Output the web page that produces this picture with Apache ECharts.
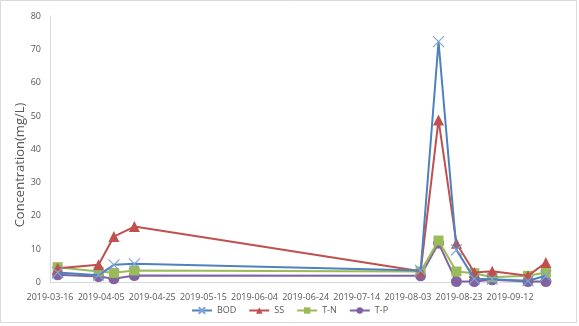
<!DOCTYPE html>
<html><head><meta charset="utf-8">
<script src="https://cdn.jsdelivr.net/npm/echarts@6/dist/echarts.min.js"></script>
<style>html,body{margin:0;padding:0;background:#fff}#c{width:579px;height:326px}</style>
</head><body><div id="c"></div>
<script>
const dates = ['2019-03-19','2019-04-04','2019-04-10','2019-04-18','2019-08-08','2019-08-15','2019-08-22','2019-08-29','2019-09-05','2019-09-19','2019-09-26'];
const bod = [3.0, 2.2, 5.3, 5.6, 3.6, 72.3, 9.8, 1.1, 1.0, 0.5, 2.0];
const ss  = [4.3, 5.3, 13.8, 16.8, 3.4, 48.8, 11.8, 3.0, 3.4, 2.0, 6.0];
const tn  = [4.6, 3.3, 2.9, 3.6, 3.3, 12.6, 3.3, 2.8, 1.6, 2.0, 3.0];
const tp  = [2.3, 1.8, 1.1, 2.1, 2.0, 11.8, 0.3, 0.3, 0.8, 0.3, 0.3];
const yTicks = [0,10,20,30,40,50,60,70,80];
const axisStart = '2019-03-16';
const axisEnd = '2019-09-28';

const DAY = 86400000;
const ts = s => { const [y,m,d] = s.split('-').map(Number); return Date.UTC(y, m-1, d); };
const fmt = v => { const d = new Date(v); const p = n => String(n).padStart(2,'0'); return d.getUTCFullYear()+'-'+p(d.getUTCMonth()+1)+'-'+p(d.getUTCDate()); };
const pts = arr => dates.map((d,i) => [ts(d), arr[i]]);

const chart = echarts.init(document.getElementById('c'), null, {renderer:'canvas'});
const axisText = {color:'#595959', fontSize:9, fontFamily:'Open Sans, sans-serif'};
chart.setOption({
  animation:false,
  backgroundColor:'#fff',
  grid:{left:50, top:16, right:28, bottom:43.5, containLabel:false},
  xAxis:{type:'value', min:ts(axisStart), max:ts(axisEnd), interval:20*DAY,
    axisLine:{lineStyle:{color:'#D9D9D9', width:1}}, axisTick:{show:false}, splitLine:{show:false},
    axisLabel:Object.assign({formatter:fmt, margin:10, showMaxLabel:false}, axisText)},
  yAxis:{type:'value', min:yTicks[0], max:yTicks[yTicks.length-1], interval:10,
    axisLine:{show:true, lineStyle:{color:'#D9D9D9', width:1}}, axisTick:{show:false}, splitLine:{show:false},
    axisLabel:Object.assign({margin:9}, axisText)},
  legend:{bottom:6, left:'center', itemWidth:20, itemHeight:8, itemGap:12,
    textStyle:{color:'#595959', fontSize:9, fontFamily:'Open Sans, sans-serif'},
    data:['BOD','SS','T-N','T-P']},
  graphic:[
    {type:'rect', shape:{x:0.5,y:0.5,width:576,height:322}, style:{fill:'none', stroke:'#D9D9D9', lineWidth:1}, silent:true},
    {type:'text', x:20, y:165, rotation:Math.PI/2, style:{text:'Concentration(mg/L)', fill:'#595959', fontSize:13, fontFamily:'Open Sans, sans-serif', align:'center', verticalAlign:'middle'}}
  ],
  series:[
    {name:'BOD', type:'line', data:pts(bod), symbol:'path://M0,0L10,10M10,0L0,10', symbolSize:11,
      lineStyle:{color:'#4F81BD', width:2}, itemStyle:{color:'rgba(0,0,0,0)', borderColor:'#7FA3D6', borderWidth:1.2}, z:4},
    {name:'SS', type:'line', data:pts(ss), symbol:'triangle', symbolSize:11,
      lineStyle:{color:'#C0504D', width:2}, itemStyle:{color:'#C0504D'}, z:3},
    {name:'T-N', type:'line', data:pts(tn), symbol:'rect', symbolSize:10,
      lineStyle:{color:'#9BBB59', width:2}, itemStyle:{color:'#9BBB59'}, z:2},
    {name:'T-P', type:'line', data:pts(tp), symbol:'circle', symbolSize:11,
      lineStyle:{color:'#8064A2', width:2}, itemStyle:{color:'#8064A2'}, z:1}
  ]
});
</script></body></html>
